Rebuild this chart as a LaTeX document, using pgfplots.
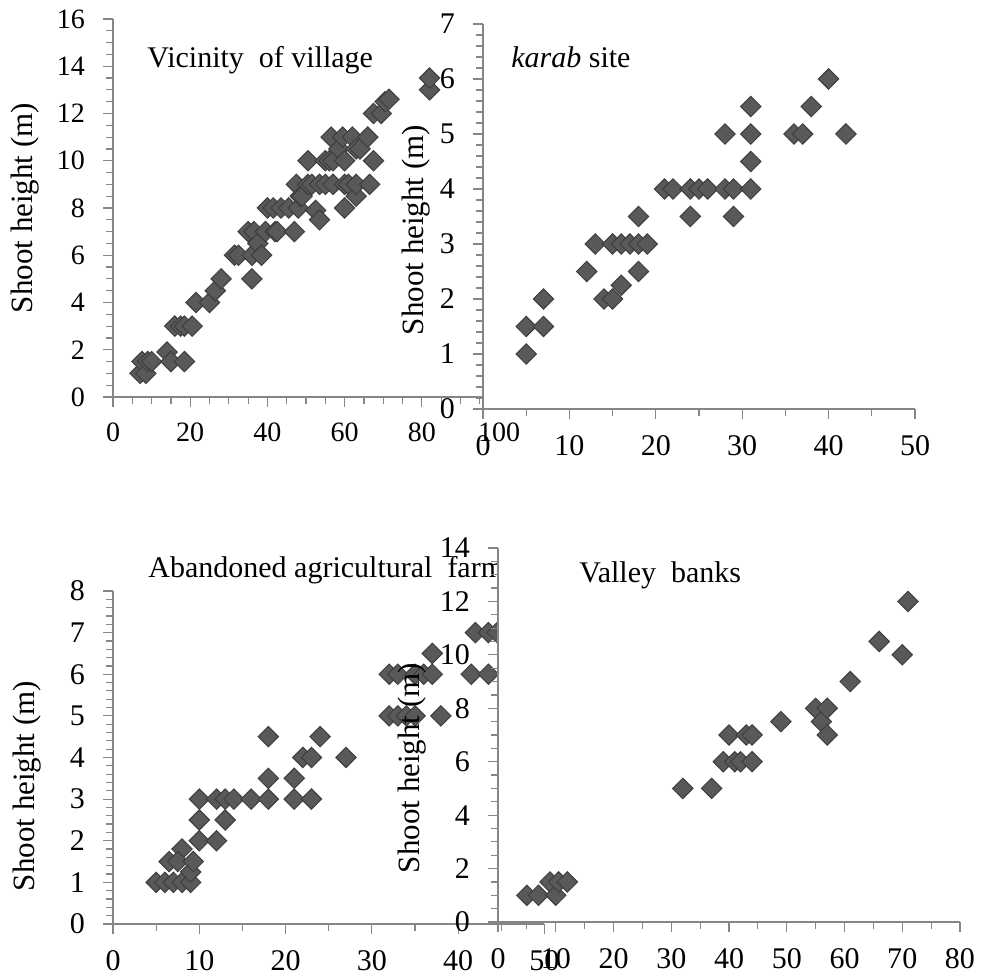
\documentclass[border=0pt]{standalone}
\usepackage{fontspec}
\setmainfont{Liberation Serif}
\usepackage{pgfplots}
\pgfplotsset{compat=1.18}
\definecolor{mk}{RGB}{89,89,89}
\definecolor{mkedge}{RGB}{62,62,62}
\definecolor{axgray}{RGB}{134,134,134}
\pgfplotsset{
  excel/.style={
    scale only axis, anchor=south west,
    axis x line=bottom, axis y line=left,
    axis line style={-, axgray, line width=0.6pt},
    tick align=outside,
    every tick/.style={axgray, line width=0.6pt},
    major tick length=5pt, minor tick length=3.5pt,
    /pgf/number format/assume math mode=true,
    tick label style={text=black},
    yticklabel style={xshift=-5.5pt},
    xticklabel style={yshift=-4.5pt},
    clip=false,
  },
  dia/.style={only marks, mark=square*, mark size=3.6pt,
    mark options={rotate=45, fill=mk, draw=mkedge, line width=0.5pt}},
}
\begin{document}
\begin{tikzpicture}
\path[use as bounding box] (0,0) rectangle (495pt,488.5pt);
% ---------------- Panel 1: Vicinity of village
\begin{axis}[excel, at={(56.5pt,290pt)}, width=193pt, height=189pt,
  xmin=0, xmax=100, ymin=0, ymax=16,
  xtick={0,20,...,100}, ytick={0,2,...,16},
  minor x tick num=3, minor y tick num=3,
  tick label style={font=\fontsize{14}{16}\selectfont}]
\addplot[dia] coordinates {
(7,1) (7.5,1.5) (8.5,1) (9,1.5) (10,1.5) (14,1.9) (15,1.5) (18.5,1.5)
(16,3) (17.5,3) (18.5,3) (20.5,3) (21.5,4) (25,4) (26.5,4.5) (28,5)
(31.5,6) (32.5,6) (36,5) (35,7) (36.5,7) (36,6) (37.5,6.5) (38.5,6)
(39.5,7) (40,8) (41.5,8) (42,7) (42.5,7) (43.5,8) (45.5,8) (47,7)
(47.5,9) (48,8) (48.5,8.5) (49,8.5) (50.5,10) (50.5,9) (51.5,9) (52.5,7.9)
(53.5,7.5) (53.5,9) (55,9) (55,10) (56,10) (56.5,11) (57,9) (57,10)
(58.5,10.5) (59.5,11) (60,10) (60,9) (60,8) (61,9) (62,11) (63,8.5)
(63,9) (63,10.5) (64,10.5) (66,11) (66.5,9) (67.5,10) (67.5,12) (69.5,12)
(70.5,12.5) (71.5,12.6) (82,13) (82,13.5)
};
\end{axis}
\node[font=\fontsize{15}{18}\selectfont, anchor=base west, inner sep=0pt] at (73.5pt,454.5pt) {Vicinity\enspace of village};
\node[font=\fontsize{15.5}{18}\selectfont, rotate=90] at (12.5pt,384.5pt) {Shoot height (m)};
% ---------------- Panel 3: Abandoned agricultural farm
\begin{axis}[excel, at={(56.5pt,26.5pt)}, width=215.75pt, height=166.5pt,
  xmin=0, xmax=50, ymin=0, ymax=8,
  xtick={0,10,...,50}, ytick={0,1,...,8},
  minor x tick num=1, minor y tick num=4,
  tick label style={font=\fontsize{15}{18}\selectfont}]
\addplot[dia] coordinates {
(5,1) (6,1) (7,1) (6.5,1.5) (8,1) (8,1.8) (7.5,1.5) (9,1) (9,1.25) (9.3,1.5)
(10,2) (10,2.5) (10,3) (12,3) (12,2) (13,2.5) (13,3) (14,3) (16,3) (18,3)
(18,3.5) (18,4.5) (21,3.5) (21,3) (22,4) (23,4) (23,3) (24,4.5) (27,4)
(32,6) (32,5) (33,6) (33,5) (34,5) (35,6) (35,5) (36,6) (37,6.5) (37,6) (38,5)
(41.5,6) (42,7) (43.5,6) (43.5,7) (44.5,7)
};
\end{axis}
\node[font=\fontsize{15}{18}\selectfont, anchor=base west, inner sep=0pt] at (74pt,199.5pt) {Abandoned agricultural\enspace farm};
\node[font=\fontsize{15.5}{18}\selectfont, rotate=90] at (13.5pt,95.5pt) {Shoot height (m)};
% ---------------- Panel 2: karab site
\begin{axis}[excel, at={(241.5pt,284pt)}, width=216pt, height=192.5pt,
  axis background/.style={fill=white},
  xmin=0, xmax=50, ymin=0, ymax=7,
  xtick={0,10,...,50}, ytick={0,1,...,7},
  minor x tick num=1, minor y tick num=4,
  tick label style={font=\fontsize{15}{18}\selectfont}]
\addplot[dia] coordinates {
(5,1) (5,1.5) (7,1.5) (7,2) (12,2.5) (13,3) (14,2) (15,2) (15,3) (16,2.25)
(16,3) (17,3) (18,2.5) (18,3.5) (18,3) (19,3) (21,4) (22,4) (24,4) (24,3.5)
(25,4) (26,4) (28,4) (28,5) (29,4) (29,3.5) (31,4) (31,4.5) (31,5) (31,5.5)
(36,5) (37,5) (38,5.5) (40,6) (42,5)
};
\end{axis}
\node[font=\fontsize{15}{18}\selectfont, anchor=base west, inner sep=0pt] at (255.5pt,454.5pt) {\textit{karab} site};
\node[font=\fontsize{15.5}{18}\selectfont, rotate=90] at (208pt,373.5pt) {Shoot height (m)};
% ---------------- Panel 4: Valley banks
\begin{axis}[excel, at={(249pt,27.5pt)}, width=231pt, height=187pt,
  axis background/.style={fill=white},
  xmin=0, xmax=80, ymin=0, ymax=14,
  xtick={0,10,...,80}, ytick={0,2,...,14},
  minor x tick num=1, minor y tick num=3,
  tick label style={font=\fontsize{15}{18}\selectfont}]
\addplot[dia] coordinates {
(5,1) (7,1) (9,1.5) (10,1) (10.5,1.5) (12,1.5) (32,5) (37,5) (39,6) (40,7)
(41,6) (42,6) (43,7) (44,7) (44,6) (49,7.5) (55,8) (56,7.5) (57,8) (57,7)
(61,9) (66,10.5) (70,10) (71,12)
};
\end{axis}
\node[font=\fontsize{15}{18}\selectfont, anchor=base west, inner sep=0pt] at (289.5pt,197pt) {Valley\enspace banks};
\node[font=\fontsize{15.5}{18}\selectfont, rotate=90] at (206pt,104.5pt) {Shoot height (m)};
\end{tikzpicture}
\end{document}
